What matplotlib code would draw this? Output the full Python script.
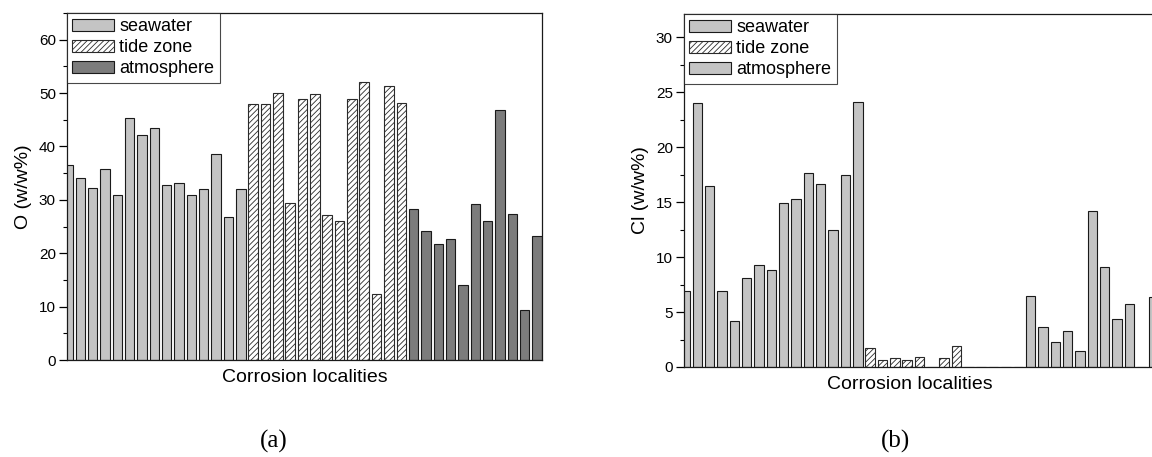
import matplotlib
matplotlib.use("Agg")
import matplotlib.pyplot as plt
import numpy as np
from matplotlib.ticker import MultipleLocator

plt.rcParams['font.family'] = ['Liberation Sans', 'DejaVu Sans']
plt.rcParams['hatch.linewidth'] = 0.6

# ---------------- data ----------------
series_labels = ['seawater', 'tide zone', 'atmosphere']

o_seawater = [36.6, 34.0, 32.3, 35.8, 31.0, 45.4, 42.1, 43.4, 32.7, 33.2,
              31.0, 32.0, 38.5, 26.7, 32.1]
o_tide = [48.0, 48.0, 50.0, 29.4, 48.9, 49.8, 27.1, 26.1, 48.9, 52.1,
          12.4, 51.3, 48.2]
o_atmosphere = [28.2, 24.1, 21.7, 22.7, 14.1, 29.2, 26.0, 46.9, 27.4, 9.3, 23.2]

cl_seawater = [6.9, 24.0, 16.5, 6.9, 4.2, 8.1, 9.3, 8.8, 14.9, 15.3,
               17.6, 16.6, 12.5, 17.5, 24.1]
cl_tide = [1.7, 0.6, 0.85, 0.6, 0.9, 0.0, 0.85, 1.9, 0.0, 0.0, 0.0, 0.0, 0.0]
cl_atmosphere = [6.5, 3.6, 2.3, 3.3, 1.45, 14.2, 9.1, 4.4, 5.7, 0.0, 6.4]

o_yticks = [0, 10, 20, 30, 40, 50, 60]
cl_yticks = [0, 5, 10, 15, 20, 25, 30]

# ---------------- styles ----------------
sty_sea = dict(facecolor='#c4c4c4', edgecolor='#1a1a1a', linewidth=0.8)
sty_tide = dict(facecolor='white', edgecolor='#2a2a2a', linewidth=0.8, hatch='//////')
sty_atm_dark = dict(facecolor='#7c7c7c', edgecolor='#1a1a1a', linewidth=0.8)
sty_atm_light = dict(facecolor='#c4c4c4', edgecolor='#1a1a1a', linewidth=0.8)

W, H = 1152, 457
fig = plt.figure(figsize=(W / 100, H / 100), dpi=100)

axA = fig.add_axes([67 / W, 1 - 360 / H, 474.7 / W, 347 / H])
axB = fig.add_axes([684 / W, 1 - 367 / H, 474.7 / W, 353 / H])


def draw(ax, groups, styles, ymax, minor, yticks, ylabel, xlab_x):
    containers = []
    start = 0
    for vals, st, lab in zip(groups, styles, series_labels):
        x = np.arange(start, start + len(vals))
        c = ax.bar(x, vals, width=0.76, label=lab, **st)
        containers.append(c)
        start += len(vals)
    ax.set_xlim(-0.09, 38.39)
    ax.set_ylim(0, ymax)
    ax.set_xticks([])
    ax.set_yticks(yticks)
    ax.yaxis.set_minor_locator(MultipleLocator(minor))
    ax.tick_params(axis='y', which='major', direction='out', length=6, width=0.9,
                   labelsize=11, pad=2, right=False)
    ax.tick_params(axis='y', which='minor', direction='out', length=3, width=0.8, right=False)
    for s in ax.spines.values():
        s.set_linewidth(0.9)
        s.set_color('#1a1a1a')
    ax.set_xlabel('Corrosion localities', fontsize=14, labelpad=6)
    ax.xaxis.set_label_coords(xlab_x, -0.025, transform=ax.transAxes)
    ax.xaxis.label.set_va('top')
    ax.set_ylabel(ylabel, fontsize=14, labelpad=5)
    leg = ax.legend(handles=containers, loc='upper left', fontsize=13,
                    frameon=True, fancybox=False, borderaxespad=0,
                    borderpad=0.3, handlelength=2.3, handleheight=0.7,
                    handletextpad=0.3, labelspacing=0.22)
    leg.get_frame().set_edgecolor('#1a1a1a')
    leg.get_frame().set_linewidth(0.8)


draw(axA, [o_seawater, o_tide, o_atmosphere], [sty_sea, sty_tide, sty_atm_dark],
     65, 5, o_yticks, 'O (w/w%)', 0.5)
draw(axB, [cl_seawater, cl_tide, cl_atmosphere], [sty_sea, sty_tide, sty_atm_light],
     32.1, 2.5, cl_yticks, 'Cl (w/w%)', (910 - 684) / 474.7)

fig.text(274 / W, 1 - 441 / H, '(a)', ha='center', va='center', fontsize=18,
         family='Liberation Serif')
fig.text(895 / W, 1 - 441 / H, '(b)', ha='center', va='center', fontsize=18,
         family='Liberation Serif')

fig.savefig('out.png', dpi=100)
